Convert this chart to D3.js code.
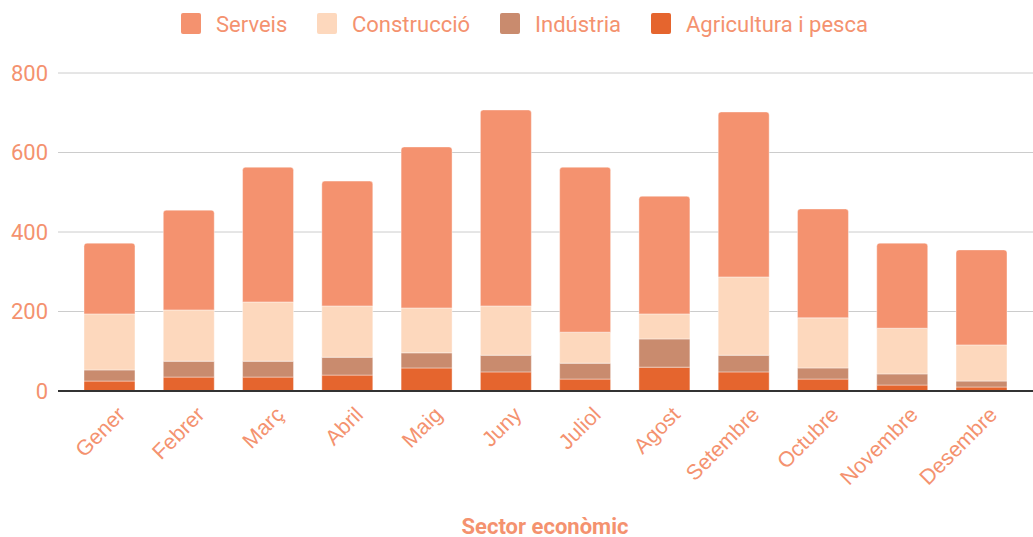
<!DOCTYPE html>
<html lang="ca">
<head>
<meta charset="UTF-8">
<title>Sector econòmic</title>
<script src="https://d3js.org/d3.v7.min.js"></script>
<style>
  body { margin: 0; background: #fff; font-family: Roboto, Arial, sans-serif; }
  .tick text { fill: #f4926f; }
</style>
</head>
<body>
<svg width="1033" height="537"></svg>
<script>
// Months (categories)
const months = ["Gener", "Febrer", "Març", "Abril", "Maig", "Juny", "Juliol", "Agost", "Setembre", "Octubre", "Novembre", "Desembre"];

// Series values (stacked from bottom)
const agricultura = [25, 35, 35, 40, 58, 48, 30, 60, 48, 30, 15, 10];
const industria   = [28, 40, 40, 45, 38, 42, 40, 71, 42, 28, 28, 15];
const construccio = [141, 129, 149, 129, 113, 124, 78, 63, 197, 126, 115, 91];
const serveis     = [178, 251, 339, 314, 405, 493, 415, 296, 415, 274, 214, 239];

const seriesNames = ["Serveis", "Construcció", "Indústria", "Agricultura i pesca"];
const colors = {"Serveis": "#f4926f", "Construcció": "#fdd8bd", "Indústria": "#c98b6e", "Agricultura i pesca": "#e5652e"};
const yTicks = [0, 200, 400, 600, 800];

const textColor = "#f4926f";
const fontSize = 22;
const margin = {top: 73, right: 0, bottom: 146, left: 58};
const width = 1033 - margin.left - margin.right;
const height = 537 - margin.top - margin.bottom;

const svg = d3.select("svg");
const g = svg.append("g").attr("transform", `translate(${margin.left},${margin.top})`);

const rows = months.map((m, i) => ({
  month: m,
  "Agricultura i pesca": agricultura[i],
  "Indústria": industria[i],
  "Construcció": construccio[i],
  "Serveis": serveis[i]
}));

const stackKeys = ["Agricultura i pesca", "Indústria", "Construcció", "Serveis"];
const stacked = d3.stack().keys(stackKeys)(rows);

const x = d3.scaleBand().domain(months).range([0, width]).paddingInner(0.357).paddingOuter(0.328);
const y = d3.scaleLinear().domain([0, 800]).range([height, 0]);

// grid lines
g.append("g")
  .selectAll("line")
  .data(yTicks)
  .join("line")
  .attr("x1", 0).attr("x2", width)
  .attr("y1", d => y(d)).attr("y2", d => y(d))
  .attr("stroke", "#cccccc").attr("stroke-width", 1);

// y axis labels
const yAxis = g.append("g")
  .call(d3.axisLeft(y).tickValues(yTicks).tickSize(0).tickPadding(10));
yAxis.select(".domain").remove();
yAxis.selectAll("text").attr("font-size", fontSize).attr("font-family", "Roboto, Arial, sans-serif");

// bars
const layers = g.append("g").selectAll("g")
  .data(stacked)
  .join("g")
  .attr("fill", d => colors[d.key]);

layers.selectAll("path")
  .data(d => d.map(v => ({key: d.key, v})))
  .join("path")
  .attr("d", d => {
    const x0 = x(d.v.data.month), w = x.bandwidth();
    const yt = y(d.v[1]), yb = y(d.v[0]);
    if (d.key === "Serveis") {
      const r = 3;
      return `M${x0},${yb} L${x0},${yt + r} Q${x0},${yt} ${x0 + r},${yt} L${x0 + w - r},${yt} Q${x0 + w},${yt} ${x0 + w},${yt + r} L${x0 + w},${yb} Z`;
    }
    return `M${x0},${yb} L${x0},${yt} L${x0 + w},${yt} L${x0 + w},${yb} Z`;
  })
  .attr("stroke", "#ffffff")
  .attr("stroke-opacity", 0.5)
  .attr("stroke-width", 0.8);

// baseline
g.append("line")
  .attr("x1", 0).attr("x2", width)
  .attr("y1", y(0)).attr("y2", y(0))
  .attr("stroke", "#333333").attr("stroke-width", 2);

// x axis labels
const xAxis = g.append("g")
  .attr("transform", `translate(0,${height})`)
  .call(d3.axisBottom(x).tickSize(0).tickPadding(0));
xAxis.select(".domain").remove();
xAxis.selectAll("text")
  .attr("font-size", 21.5)
  .attr("font-family", "'Liberation Sans', Arial, sans-serif")
  .attr("text-anchor", "end")
  .attr("dy", 0)
  .attr("transform", "translate(17,25) rotate(-45)");

// axis title
svg.append("text")
  .attr("x", margin.left + width / 2 - 0.5)
  .attr("y", 534)
  .attr("text-anchor", "middle")
  .attr("font-size", fontSize)
  .attr("font-weight", "bold")
  .attr("fill", textColor)
  .text("Sector econòmic");

// legend
const legendX = [181, 317, 500, 651];
const legend = svg.append("g").selectAll("g")
  .data(seriesNames)
  .join("g")
  .attr("transform", (d, i) => `translate(${legendX[i]},13)`);
legend.append("rect")
  .attr("width", 20).attr("height", 21).attr("rx", 2)
  .attr("fill", d => colors[d]);
legend.append("text")
  .attr("x", 35).attr("y", 18.5)
  .attr("font-size", fontSize)
  .attr("fill", textColor)
  .text(d => d);
</script>
</body>
</html>
